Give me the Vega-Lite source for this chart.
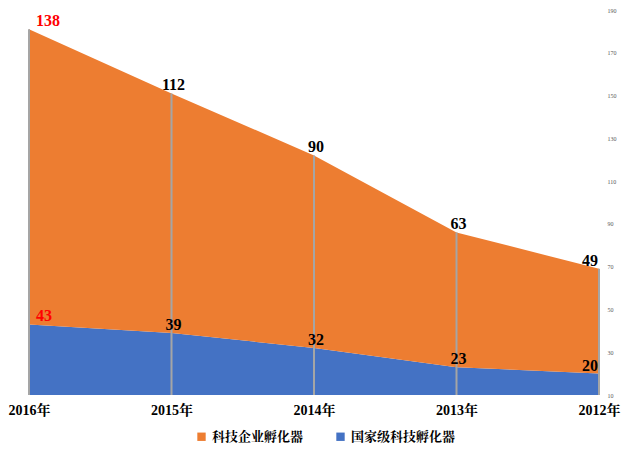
{
  "$schema": "https://vega.github.io/schema/vega-lite/v6.json",
  "width": 570,
  "height": 385,
  "autosize": "none",
  "padding": {"left": 29, "top": 10, "right": 30, "bottom": 58},
  "background": "white",
  "config": {
    "view": {"stroke": null},
    "font": "Liberation Serif, Noto Serif CJK SC, Noto Sans CJK SC"
  },
  "data": {
    "values": [
      {"year": "2016年", "series": "国家级科技孵化器", "order": 1, "value": 43},
      {"year": "2015年", "series": "国家级科技孵化器", "order": 1, "value": 39},
      {"year": "2014年", "series": "国家级科技孵化器", "order": 1, "value": 32},
      {"year": "2013年", "series": "国家级科技孵化器", "order": 1, "value": 23},
      {"year": "2012年", "series": "国家级科技孵化器", "order": 1, "value": 20},
      {"year": "2016年", "series": "科技企业孵化器", "order": 2, "value": 138},
      {"year": "2015年", "series": "科技企业孵化器", "order": 2, "value": 112},
      {"year": "2014年", "series": "科技企业孵化器", "order": 2, "value": 90},
      {"year": "2013年", "series": "科技企业孵化器", "order": 2, "value": 63},
      {"year": "2012年", "series": "科技企业孵化器", "order": 2, "value": 49}
    ]
  },
  "transform": [
    {"stack": "value", "groupby": ["year"], "sort": [{"field": "order", "order": "ascending"}], "as": ["y0", "y1"]}
  ],
  "encoding": {
    "x": {
      "field": "year",
      "type": "ordinal",
      "sort": ["2016年", "2015年", "2014年", "2013年", "2012年"],
      "scale": {"type": "point", "padding": 0},
      "axis": {
        "title": null,
        "domain": false,
        "ticks": false,
        "labelAngle": 0,
        "labelFont": "Liberation Serif, Noto Serif CJK SC, Noto Sans CJK SC",
        "labelFontSize": 14,
        "labelFontWeight": "bold",
        "labelColor": "#000000",
        "labelPadding": 8
      }
    }
  },
  "layer": [
    {
      "mark": {"type": "area", "clip": true, "opacity": 1},
      "encoding": {
        "y": {
          "field": "y1",
          "type": "quantitative",
          "scale": {"domain": [10, 190], "nice": false, "zero": false},
          "axis": {
            "orient": "right",
            "title": null,
            "values": [10, 30, 50, 70, 90, 110, 130, 150, 170, 190],
            "grid": false,
            "domain": false,
            "ticks": false,
            "labelFontSize": 6,
            "labelColor": "#595959",
            "labelPadding": 8
          }
        },
        "y2": {"field": "y0"},
        "color": {
          "field": "series",
          "type": "nominal",
          "scale": {
            "domain": ["科技企业孵化器", "国家级科技孵化器"],
            "range": ["#ED7D31", "#4472C4"]
          },
          "legend": {
            "title": null,
            "orient": "none",
            "direction": "horizontal",
            "legendX": 166,
            "legendY": 420,
            "symbolType": "square",
            "symbolSize": 70,
            "symbolStrokeWidth": 0,
            "symbolOpacity": 1,
            "labelFont": "Liberation Serif, Noto Serif CJK SC, Noto Sans CJK SC",
            "labelFontSize": 13,
            "labelFontWeight": "bold",
            "labelColor": "#000000",
            "columnPadding": 30
          }
        },
        "detail": {"field": "series"},
        "order": {"field": "order"}
      }
    },
    {
      "transform": [{"filter": "datum.order === 2"}],
      "mark": {"type": "rule", "color": "#A5A5A5", "strokeWidth": 2},
      "encoding": {
        "y": {"field": "y1", "type": "quantitative"},
        "y2": {"datum": 10}
      }
    },
    {
      "transform": [{"filter": "datum.year === '2016年'"}],
      "mark": {"type": "text", "align": "left", "baseline": "bottom", "dx": 7, "dy": 0, "fontSize": 16, "fontWeight": "bold", "font": "Liberation Serif", "color": "#FF0000"},
      "encoding": {
        "y": {"field": "y1", "type": "quantitative"},
        "text": {"field": "value", "type": "quantitative"}
      }
    },
    {
      "transform": [{"filter": "datum.year !== '2016年' && datum.year !== '2012年'"}],
      "mark": {"type": "text", "align": "center", "baseline": "bottom", "dx": 2, "dy": 0, "fontSize": 16, "fontWeight": "bold", "font": "Liberation Serif", "color": "#000000"},
      "encoding": {
        "y": {"field": "y1", "type": "quantitative"},
        "text": {"field": "value", "type": "quantitative"}
      }
    },
    {
      "transform": [{"filter": "datum.year === '2012年'"}],
      "mark": {"type": "text", "align": "right", "baseline": "bottom", "dx": -1, "dy": 0, "fontSize": 16, "fontWeight": "bold", "font": "Liberation Serif", "color": "#000000"},
      "encoding": {
        "y": {"field": "y1", "type": "quantitative"},
        "text": {"field": "value", "type": "quantitative"}
      }
    }
  ]
}
